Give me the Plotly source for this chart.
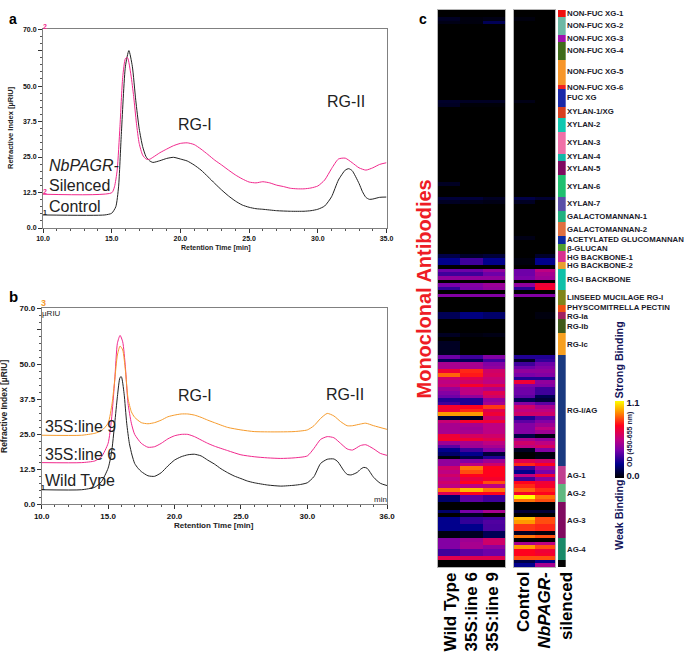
import plotly.graph_objects as go

W, H = 685, 655

# panel a: size exclusion traces
a_control_x = [10, 14.5, 15, 15.3, 15.5, 15.7, 16, 16.25, 16.5, 16.75, 17, 17.25, 17.5, 17.75, 18, 18.5, 19, 19.5, 20, 20.5, 21, 21.5, 22, 22.5, 23, 23.5, 24, 24.5, 25, 25.5, 26, 27, 28, 29, 29.5, 30, 30.5, 31, 31.5, 32, 32.25, 32.5, 33, 33.25, 33.5, 33.75, 34, 34.5, 35]
a_control_y = [4.6, 4.6, 5.2, 7.5, 14.5, 33, 57, 62.5, 57, 45, 35, 28.7, 25.1, 23.7, 23.1, 23.7, 24.5, 24.9, 24.3, 23.6, 22.2, 20.4, 18.1, 15.7, 13.4, 11.3, 9.5, 8.1, 7.3, 6.8, 6.6, 6.1, 5.9, 5.9, 6.1, 6.6, 7.75, 11, 16.9, 20.4, 20.9, 20.2, 15.7, 12.8, 10.8, 10.1, 10.2, 10.8, 10.9]
a_silenced_x = [10, 15, 15.2, 15.4, 15.6, 15.8, 16, 16.15, 16.4, 16.6, 16.8, 17, 17.25, 17.5, 17.75, 18, 18.5, 19, 19.5, 20, 20.5, 21, 21.5, 22, 22.5, 23, 23.5, 24, 24.5, 25, 25.5, 26, 26.5, 27, 27.5, 28, 28.5, 29, 29.5, 30, 30.5, 31, 31.5, 32, 32.5, 33, 33.5, 34, 34.5, 35]
a_silenced_y = [11.9, 12.4, 14.5, 20.4, 35.7, 53, 59.7, 60, 53.9, 46.3, 36.9, 29.8, 25.7, 24.3, 24.2, 24.9, 26.5, 27.8, 29, 29.8, 30, 29.4, 27.8, 25.9, 23.9, 22.2, 20.4, 18.7, 17.3, 16.2, 15.9, 16.3, 15.9, 15.1, 14.6, 14, 13.8, 13.8, 14.1, 14.8, 16.9, 20.9, 24.3, 24.6, 23, 21.2, 20.4, 21.2, 22.4, 23]

# panel b
b_wild_x = [10, 13, 14, 14.5, 15, 15.25, 15.5, 15.7, 15.9, 16, 16.2, 16.4, 16.6, 16.8, 17, 17.25, 17.5, 18, 18.5, 19, 19.5, 20, 20.5, 21, 21.5, 22, 22.5, 23, 23.5, 24, 24.5, 25, 25.5, 26, 27, 28, 29, 29.5, 30, 30.5, 31, 31.5, 32, 32.3, 32.75, 33, 33.3, 33.75, 34, 34.25, 34.5, 35, 35.5, 36]
b_wild_y = [5.1, 5.1, 6, 8, 12.8, 18.1, 28.9, 38.4, 45.3, 45.5, 39.6, 28.9, 21.7, 17.5, 14.5, 12.8, 11.6, 10.1, 9.9, 11.2, 13.6, 15.7, 16.9, 17.6, 17.8, 17.2, 15.7, 14.3, 12.6, 11.2, 10, 9.1, 8.2, 7.6, 6.8, 6.4, 6.7, 7, 7.6, 9.8, 14.5, 16, 16.1, 15.1, 11.9, 10.6, 10.4, 11.3, 12.4, 13.1, 12.8, 9.5, 7.4, 6.6]
b_line6_x = [10, 13, 14, 14.5, 15, 15.25, 15.5, 15.7, 15.9, 16.1, 16.3, 16.5, 16.75, 17, 17.5, 18, 18.5, 19, 19.5, 20, 20.5, 21, 21.5, 22, 22.5, 23, 24, 25, 26, 27, 28, 29, 30, 30.5, 31, 31.5, 32, 32.5, 33, 33.4, 34, 34.4, 35, 35.5, 36]
b_line6_y = [14.8, 14.8, 15.4, 16.9, 21.7, 30, 44.4, 57.5, 60.3, 58, 49.1, 36, 28.9, 24.9, 21.7, 20.3, 20.5, 21.7, 23.3, 24.4, 24.9, 24.9, 24.1, 22.9, 21.7, 20.7, 19.1, 17.6, 16.9, 16.5, 16.3, 16.5, 17.2, 19.9, 23.1, 24.1, 23.7, 21.7, 19.7, 19.3, 20.9, 21.2, 19.7, 18.1, 17.4]
b_line9_x = [10, 13, 14, 14.5, 15, 15.3, 15.5, 15.7, 15.9, 16.1, 16.3, 16.5, 16.75, 17, 17.5, 18, 18.5, 19, 19.5, 20, 20.5, 21, 21.5, 22, 22.5, 23, 24, 25, 26, 27, 28, 29, 30, 30.5, 31, 31.5, 32, 32.5, 33, 33.4, 34, 34.4, 35, 36]
b_line9_y = [24.6, 24.6, 25.3, 26.2, 28.9, 36, 44.4, 53.3, 56.5, 55.1, 47.9, 37.8, 33, 31, 29.1, 28.7, 29.1, 30, 31.2, 31.8, 32.2, 32.2, 31.8, 31, 30, 29.1, 27.4, 26.5, 25.9, 25.8, 25.8, 25.9, 26.5, 28, 30.6, 32.4, 31.5, 29.5, 28, 28, 28.6, 28.9, 28, 26.7]

a_xticks = [10, 15, 20, 25, 30, 35]
b_xticks = [10, 15, 20, 25, 30, 36]
y_ticks = [0, 12.5, 25, 37.5, 50, 62.5, 70]
y_ticktext = ["0.0", "12.5", "25.0", "37.5", "50.0", "", "70.0"]

# panel c: OD per antibody, columns = Wild Type, 35S:line 6, 35S:line 9, Control, NbPAGR-silenced
blank = [0, 0, 0, 0, 0]
od_rows = (
    [blank] * 2
    + [[.05, .02, .03, .02, 0], [.03, .02, .12, 0, 0]]
    + [blank] * 21
    + [[.06, .05, .05, .03, 0], [.05, .01, .01, 0, 0]]
    + [blank] * 21
    + [[.05, 0, 0, 0, 0]]
    + [blank] * 3
    + [[.08, .08, .05, .1, .07], [.05, .04, .03, .05, 0]]
    + [blank] * 9
    + [[0, 0, 0, .03, 0]]
    + [blank] * 4
    + [[.1, .06, .08, 0, .06], [.2, .3, .2, .02, .2], [.2, .3, .2, .02, .2]]
    + [blank]
    + [[.38, .38, .45, .38, .55], [.3, .3, .38, .38, .5], [.45, .45, .45, .4, .48], blank,
       [.4, .42, .47, .45, .7], [.28, .4, .45, .27, .72], blank, [.42, .42, .42, .42, .42]]
    + [blank] * 4
    + [[.12, .18, .15, 0, .02], [.12, .18, .15, 0, .02]]
    + [blank] * 4
    + [[.05, .02, .03, 0, 0]]
    + [blank]
    + [[.05, 0, 0, 0, 0]] * 4
    + [
        [.38, .3, .42, .25, .25], [.12, .12, .3, .05, .28], [.5, .5, .42, .3, .38], [.5, .5, .45, .38, .42],
        [.7, .8, .6, .45, .45], [.88, .78, .62, .4, .42], [.6, .65, .58, .25, .25], [.55, .6, .55, .7, .45],
        [.58, .72, .65, .42, .42], [.47, .55, .52, .38, .3], [.42, .55, .65, .38, .3], [.38, .45, .6, .35, .12],
        [.25, .25, .45, .12, .08], [.3, .25, .5, .42, .35], [.72, .75, .82, .6, .5], [.7, .8, .65, .55, .55],
        [.95, .95, .7, .6, .6], [.08, .05, .6, .25, .35], [.58, .72, .7, .35, .42], [.5, .5, .55, .42, .48],
        [.5, .48, .55, .42, .55], [.5, .5, .55, .42, .48], [.7, .62, .6, .1, .03], [.72, .7, .65, .5, .45],
        [.48, .5, .55, .6, .55], [.35, .48, .5, .55, .62], [.2, .3, .42, .05, .42], [.15, .2, .08, 0, .02],
        [.02, .1, .25, 0, .03], [.45, .42, .48, .65, .6], [.45, .55, .6, .8, .75], [.6, .9, .75, .3, .5],
        [.55, .85, .75, .2, .4], [.6, .75, .75, .55, .7], [.55, .68, .72, .3, .45], [.6, .75, .85, .75, .7],
        [.55, .55, .55, .8, .72], [.9, 1.0, .9, .88, .8], [.65, .75, .75, .72, .75], [.15, .35, .3, 1.1, .9],
        [.15, .35, .3, .9, .85], blank, blank, [.15, .4, .5, .08, .08], [0, .05, 0, 0, 0],
        [.2, .28, .3, 1.0, .85], [.2, .28, .33, .95, .85], [.2, .2, .32, .82, .8], [.2, .2, .32, .82, .8],
        [.02, .05, .12, .05, .02], [.02, .05, .12, .9, .85], [.42, .48, .6, 0, 0], [.42, .5, .6, .5, .55],
        [.42, .5, .45, .95, .85], [.3, .35, .38, .75, .7], [.3, .35, .38, .75, .72], [.65, .65, .65, .85, .85],
        [0, 0, 0, .1, .2], [0, 0, 0, .2, .5],
    ]
)
assert len(od_rows) == 155

group_labels = ["NON-FUC XG-1", "NON-FUC XG-2", "NON-FUC XG-3", "NON-FUC XG-4", "NON-FUC XG-5", "NON-FUC XG-6", "FUC XG",
                "XYLAN-1/XG", "XYLAN-2", "XYLAN-3", "XYLAN-4", "XYLAN-5", "XYLAN-6", "XYLAN-7",
                "GALACTOMANNAN-1", "GALACTOMANNAN-2", "ACETYLATED GLUCOMANNAN", "β-GLUCAN", "HG BACKBONE-1", "HG BACKBONE-2",
                "RG-I BACKBONE", "LINSEED MUCILAGE RG-I", "PHYSCOMITRELLA PECTIN", "RG-Ia", "RG-Ib", "RG-Ic", "RG-I/AG",
                "AG-1", "AG-2", "AG-3", "AG-4", ""]
group_sizes = [2, 5, 2, 5, 7, 1, 5, 3, 4, 6, 2, 4, 6, 4, 3, 4, 2, 2, 3, 2, 6, 4, 2, 2, 4, 6, 31, 5, 5, 10, 6, 2]
group_colors = ["#f01010", "#6db8a5", "#a010b0", "#3f6b1a", "#f7962a", "#f02020", "#1a28a8", "#d8401f", "#10c8b0", "#f070a8",
                "#15b8a8", "#800a60", "#20c070", "#5a4fa8", "#20b080", "#e07040", "#0a28a0", "#50a030", "#d83090", "#e8a030",
                "#10c0a8", "#80851a", "#f0500f", "#a02060", "#3f5a1a", "#f7a020", "#1a3a80", "#c04090", "#60b880", "#800a60",
                "#1a8a68", "#050505"]
group_label_y = [13.5, 25.5, 38.5, 51, 72, 87, 97, 112, 124.5, 142, 157, 168, 186, 203.5, 216, 229, 240, 248, 257, 265,
                 279, 297, 307.5, 316, 326, 344, 410.5, 475, 493.5, 520.5, 549]

od_scale = [[0, "#000000"], [0.18, "#00008c"], [0.36, "#7800aa"], [0.5, "#be0082"], [0.68, "#ff001e"],
            [0.86, "#ff9600"], [1, "#ffff00"]]

BLACK = "#222222"
PINK = "#f0288c"
ORANGE = "#f59a2b"
FONT = "Liberation Sans"


def dom_x(left, right):
    return [left / W, right / W]


def dom_y(top, bottom):
    return [1 - bottom / H, 1 - top / H]


def label(x, y, text, size, color=BLACK, angle=0, xanchor="center", yanchor="middle", bold=False, italic=False):
    if bold:
        text = f"<b>{text}</b>"
    if italic:
        text = f"<i>{text}</i>"
    return dict(x=x / W, y=1 - y / H, xref="paper", yref="paper", text=text, showarrow=False, textangle=angle,
                xanchor=xanchor, yanchor=yanchor, font=dict(family=FONT, size=size, color=color),
                borderpad=0, borderwidth=0)


def line_trace(x, y, color, xa, ya):
    return go.Scatter(x=x, y=y, mode="lines", line=dict(color=color, width=1, shape="spline", smoothing=0.6),
                      xaxis=xa, yaxis=ya, showlegend=False)


fig = go.Figure()
fig.add_trace(line_trace(a_control_x, a_control_y, BLACK, "x", "y"))
fig.add_trace(line_trace(a_silenced_x, a_silenced_y, PINK, "x", "y"))
fig.add_trace(line_trace(b_wild_x, b_wild_y, BLACK, "x2", "y2"))
fig.add_trace(line_trace(b_line6_x, b_line6_y, PINK, "x2", "y2"))
fig.add_trace(line_trace(b_line9_x, b_line9_y, ORANGE, "x2", "y2"))

rows = list(range(len(od_rows)))
fig.add_trace(go.Heatmap(z=[r[:3] for r in od_rows], x=[0, 1, 2], y=rows, coloraxis="coloraxis", xaxis="x3", yaxis="y3"))
fig.add_trace(go.Heatmap(z=[r[3:] for r in od_rows], x=[0, 1], y=rows, coloraxis="coloraxis", xaxis="x4", yaxis="y4"))

for name, size, color in zip(group_labels, group_sizes, group_colors):
    fig.add_trace(go.Bar(x=[0], y=[size], name=name, marker=dict(color=color, line_width=0), xaxis="x5", yaxis="y5",
                         showlegend=False, width=1))


def chart_axes(n, xticks, xmax, left, right, top, bottom, tick_size):
    frame = dict(showline=True, mirror=True, linecolor="#808080", linewidth=1, showgrid=False, zeroline=False, automargin=False,
                 ticks="outside", ticklen=4, tickcolor="#333333", tickfont=dict(family=FONT, size=tick_size, color="#111111", weight=700))
    xa = dict(frame, anchor=f"y{n}", domain=dom_x(left, right), range=[10, xmax], tickmode="array", tickvals=xticks,
              ticktext=[f"{v:.1f}" for v in xticks],
              minor=dict(dtick=1, tick0=10, ticks="outside", ticklen=2, tickcolor="#555555"))
    ya = dict(frame, anchor=f"x{n}", domain=dom_y(top, bottom), range=[0, 70], tickmode="array", tickvals=y_ticks, ticktext=y_ticktext,
              minor=dict(dtick=2.5, tick0=0, ticks="outside", ticklen=2, tickcolor="#555555"))
    return xa, ya


def heat_axes(n, left, right, xmin, xmax):
    box = dict(showline=True, mirror=True, linecolor="#b4b4b4", linewidth=1, showgrid=False, zeroline=False, automargin=False,
               showticklabels=False, ticks="")
    xa = dict(box, anchor=f"y{n}", domain=dom_x(left, right), range=[xmin, xmax])
    ya = dict(box, anchor=f"x{n}", domain=dom_y(10, 567), range=[154.5, -0.5])
    return xa, ya


xa1, ya1 = chart_axes(1, a_xticks, 35, 43, 386.5, 29.3, 228, 7)
xa2, ya2 = chart_axes(2, b_xticks, 36, 41.7, 387, 308.3, 504, 8)
xa3, ya3 = heat_axes(3, 437.5, 505, -0.5, 2.5)
xa4, ya4 = heat_axes(4, 513.5, 555, -0.5, 1.5)
xa1["anchor"] = "y"
ya1["anchor"] = "x"

annotations = [
    label(13, 19, "a", 14, "#000000", bold=True),
    label(13, 296, "b", 15, "#000000", bold=True),
    label(423, 19, "c", 14, "#000000", bold=True),
    label(11, 128, "Refractive Index [µRIU]", 7.5, angle=-90, bold=True),
    label(215, 247.5, "Retention Time [min]", 7, bold=True),
    label(4, 407, "Refractive Index [µRIU]", 8.5, angle=-90, bold=True),
    label(214, 525.5, "Retention Time [min]", 8, bold=True),
    label(195, 124, "RG-I", 16),
    label(346, 102, "RG-II", 16),
    label(49, 166, "NbPAGR-", 16, xanchor="left", italic=True),
    label(49, 185, "Silenced", 16, xanchor="left"),
    label(49, 206, "Control", 16, xanchor="left"),
    label(195, 395, "RG-I", 16),
    label(345, 394, "RG-II", 16),
    label(45, 426, "35S:line 9", 16, xanchor="left"),
    label(45, 454, "35S:line 6", 16, xanchor="left"),
    label(45, 480, "Wild Type", 16, xanchor="left"),
    label(45, 26, "2", 7, PINK, bold=True),
    label(45, 191, "2", 7, PINK, bold=True),
    label(45, 212, "1", 7, bold=True),
    label(43.5, 303, "3", 9, ORANGE, bold=True),
    label(51, 313.5, "µRIU", 8),
    label(380, 499, "min", 8),
    label(43.5, 487, "1", 7, bold=True),
    label(423, 289.5, "Monoclonal Antibodies", 20, "#ee1c25", angle=-90, bold=True),
    label(450, 573, "Wild Type", 17, "#000000", angle=-90, yanchor="top", bold=True),
    label(471, 573, "35S:line 6", 17, "#000000", angle=-90, yanchor="top", bold=True),
    label(492, 573, "35S:line 9", 17, "#000000", angle=-90, yanchor="top", bold=True),
    label(523, 572, "Control", 17, "#000000", angle=-90, yanchor="top", bold=True),
    label(544, 572, "NbPAGR-", 17, "#000000", angle=-90, yanchor="top", bold=True, italic=True),
    label(566, 572, "silenced", 17, "#000000", angle=-90, yanchor="top", bold=True),
    label(619, 399, "Strong Binding", 10.7, "#15155a", angle=-90, yanchor="bottom", bold=True),
    label(619, 480, "Weak Binding", 10.7, "#15155a", angle=-90, yanchor="top", bold=True),
    label(630, 440, "OD (450-655 nm)", 7, "#222244", angle=-90, bold=True),
]
for text, y in zip(group_labels, group_label_y):
    annotations.append(label(567, y, text, 7.8, "#1a1a2a", xanchor="left", bold=True))

fig.update_layout(
    template="none",
    width=W, height=H, margin=dict(l=0, r=0, t=0, b=0, pad=0), autosize=False,
    paper_bgcolor="white", plot_bgcolor="white", showlegend=False,
    font=dict(family=FONT, color=BLACK),
    barmode="stack", bargap=0,
    xaxis=xa1, yaxis=ya1, xaxis2=xa2, yaxis2=ya2,
    xaxis3=xa3, yaxis3=ya3, xaxis4=xa4, yaxis4=ya4,
    xaxis5=dict(anchor="y5", domain=dom_x(557.7, 565.7), range=[-0.5, 0.5], visible=False),
    yaxis5=dict(anchor="x5", domain=dom_y(10, 567), range=[155, 0], visible=False),
    coloraxis=dict(
        colorscale=od_scale, cmin=0, cmax=1.1,
        colorbar=dict(x=615 / W, xanchor="left", y=1 - 401 / H, yanchor="top", lenmode="pixels", len=77,
                      thickness=9, thicknessmode="pixels", outlinewidth=0, xpad=0, ypad=0,
                      tickmode="array", tickvals=[0.04, 1.07], ticktext=["0.0", "1.1"], ticks="",
                      tickfont=dict(family=FONT, size=9.5, color="#111133", weight=700)),
    ),
    annotations=annotations,
)

fig.write_html("out.html", config=dict(displayModeBar=False), post_script="document.body.style.margin='0';")
